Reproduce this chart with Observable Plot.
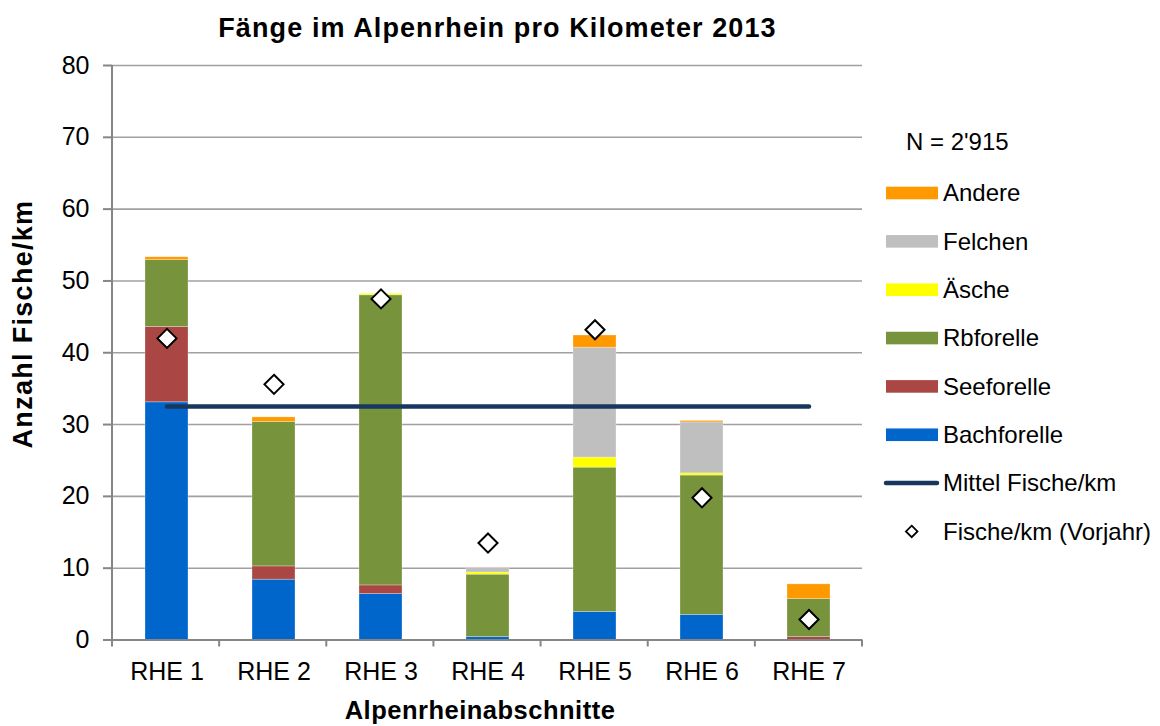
<!DOCTYPE html>
<html>
<head>
<meta charset="utf-8">
<script src="https://cdn.jsdelivr.net/npm/d3@7"></script>
<script src="https://cdn.jsdelivr.net/npm/@observablehq/plot@0.6"></script>
<style>
  body { margin: 0; background: #fff; }
  #chart { width: 1160px; height: 726px; }
</style>
</head>
<body>
<div id="chart"></div>
<script>
// ---- data ----
const categories = ["RHE 1", "RHE 2", "RHE 3", "RHE 4", "RHE 5", "RHE 6", "RHE 7"];
const species = ["Bachforelle", "Seeforelle", "Rbforelle", "Äsche", "Felchen", "Andere"];
const bachforelle = [33.1, 8.4, 6.4, 0.4, 3.9, 3.5, 0];
const seeforelle  = [10.5, 1.85, 1.2, 0, 0, 0, 0.4];
const rbforelle   = [9.3, 20.1, 40.4, 8.7, 20.1, 19.4, 5.3];
const aesche      = [0, 0, 0.2, 0.3, 1.4, 0.3, 0];
const felchen     = [0, 0, 0, 0.65, 15.3, 7.1, 0];
const andere      = [0.4, 0.65, 0, 0, 1.7, 0.2, 2.05];
const vorjahr     = [42.0, 35.6, 47.5, 13.5, 43.2, 19.8, 2.85];
const mittel      = [32.5, 32.5, 32.5, 32.5, 32.5, 32.5, 32.5];
const yTicks = [0, 10, 20, 30, 40, 50, 60, 70, 80];
const nLabel = "N = 2'915";
const colors = {
  "Bachforelle": "#0066CC", "Seeforelle": "#AA4643", "Rbforelle": "#77933C",
  "Äsche": "#FFFF00", "Felchen": "#BFBFBF", "Andere": "#FF9900"
};

const seriesValues = [bachforelle, seeforelle, rbforelle, aesche, felchen, andere];
const stacked = [];
species.forEach((s, si) => categories.forEach((c, ci) => {
  stacked.push({cat: c, species: s, value: seriesValues[si][ci]});
}));
const prevData = categories.map((c, i) => ({cat: c, value: vorjahr[i]}));
const meanData = categories.map((c, i) => ({cat: c, value: mittel[i]}));

const FONT = "'Liberation Sans', Arial, Helvetica, sans-serif";
const AXIS = "#868686";

// axis line + category-boundary ticks, positioned by the scales
function axisLines(index, scales, values, dim) {
  const g = d3.create("svg:g");
  const left = dim.marginLeft, right = dim.width - dim.marginRight;
  const y0 = scales.y(0), y1 = scales.y(80);
  const n = categories.length;
  g.append("line").attr("x1", left).attr("x2", left).attr("y1", y0).attr("y2", y1)
    .attr("stroke", AXIS).attr("stroke-width", 2);
  for (let i = 0; i <= n; i++) {
    const x = left + i * (right - left) / n;
    g.append("line").attr("x1", x).attr("x2", x).attr("y1", y0).attr("y2", y0 + 7)
      .attr("stroke", AXIS).attr("stroke-width", 2);
  }
  return g.node();
}

const svg = Plot.plot({
  width: 1160,
  height: 726,
  marginTop: 65,
  marginBottom: 86.5,
  marginLeft: 112,
  marginRight: 298,
  style: {fontFamily: FONT, fontSize: "24px", color: "#000", background: "#fff", overflow: "visible"},
  x: {domain: categories, paddingInner: 0.6, paddingOuter: 0.3, label: null},
  y: {domain: [0, 80], label: null},
  color: {domain: species, range: species.map(s => colors[s])},
  marks: [
    Plot.ruleY(yTicks, {stroke: "#a0a0a0", strokeWidth: 1.6}),
    Plot.barY(stacked, {x: "cat", y: "value", fill: "species", z: "species", order: species,
      stroke: "#ffffff", strokeOpacity: 0.35, strokeWidth: 0.8}),
    Plot.ruleY([0], {stroke: AXIS, strokeWidth: 2}),
    axisLines,
    Plot.axisY({ticks: yTicks, tickSize: 9, tickPadding: 14, stroke: AXIS, strokeWidth: 2,
      fontSize: 25, label: null}),
    Plot.axisX({tickSize: 0, tickPadding: 22, fontSize: 25, label: null}),
    Plot.lineY(meanData, {x: "cat", y: "value", stroke: "#17375E", strokeWidth: 4.5, strokeLinecap: "round"}),
    Plot.dot(prevData, {x: "cat", y: "value", symbol: "diamond2", r: 8.6, fill: "#fff", stroke: "#000", strokeWidth: 2})
  ]
});

document.getElementById("chart").appendChild(svg);

// ---- titles & legend ----
const s = d3.select(svg);
s.append("text").attr("x", 497.5).attr("y", 37).attr("text-anchor", "middle")
  .attr("font-family", FONT).attr("font-weight", "bold").attr("font-size", 27)
  .attr("letter-spacing", "1.1px").attr("fill", "#000")
  .text("Fänge im Alpenrhein pro Kilometer 2013");
s.append("text").attr("x", 480).attr("y", 719).attr("text-anchor", "middle")
  .attr("font-family", FONT).attr("font-weight", "bold").attr("font-size", 25.5)
  .attr("letter-spacing", "0.5px").attr("fill", "#000")
  .text("Alpenrheinabschnitte");
s.append("text").attr("transform", "translate(31.5,324) rotate(-90)").attr("text-anchor", "middle")
  .attr("font-family", FONT).attr("font-weight", "bold").attr("font-size", 27)
  .attr("letter-spacing", "1.3px").attr("fill", "#000")
  .text("Anzahl Fische/km");

const lg = s.append("g").attr("font-family", FONT).attr("font-size", 24).attr("fill", "#000")
  .attr("text-anchor", "start");
lg.append("text").attr("x", 906).attr("y", 150).attr("text-anchor", "start").text(nLabel);
const legendItems = ["Andere", "Felchen", "Äsche", "Rbforelle", "Seeforelle", "Bachforelle", "Mittel Fische/km", "Fische/km (Vorjahr)"];
legendItems.forEach((name, i) => {
  const yc = 193 + i * 48.35;
  if (colors[name]) {
    lg.append("rect").attr("x", 886).attr("y", yc - 6.3).attr("width", 52).attr("height", 12.6)
      .attr("fill", colors[name]);
  } else if (name.startsWith("Mittel")) {
    lg.append("line").attr("x1", 886).attr("x2", 937).attr("y1", yc).attr("y2", yc)
      .attr("stroke", "#17375E").attr("stroke-width", 4.5).attr("stroke-linecap", "round");
  } else {
    lg.append("path").attr("d", d3.symbol(d3.symbolDiamond2, 85)())
      .attr("transform", `translate(911.7,${yc})`)
      .attr("fill", "#fff").attr("stroke", "#000").attr("stroke-width", 1.8);
  }
  lg.append("text").attr("x", 943).attr("y", yc + 8.3).attr("text-anchor", "start").text(name);
});
</script>
</body>
</html>
